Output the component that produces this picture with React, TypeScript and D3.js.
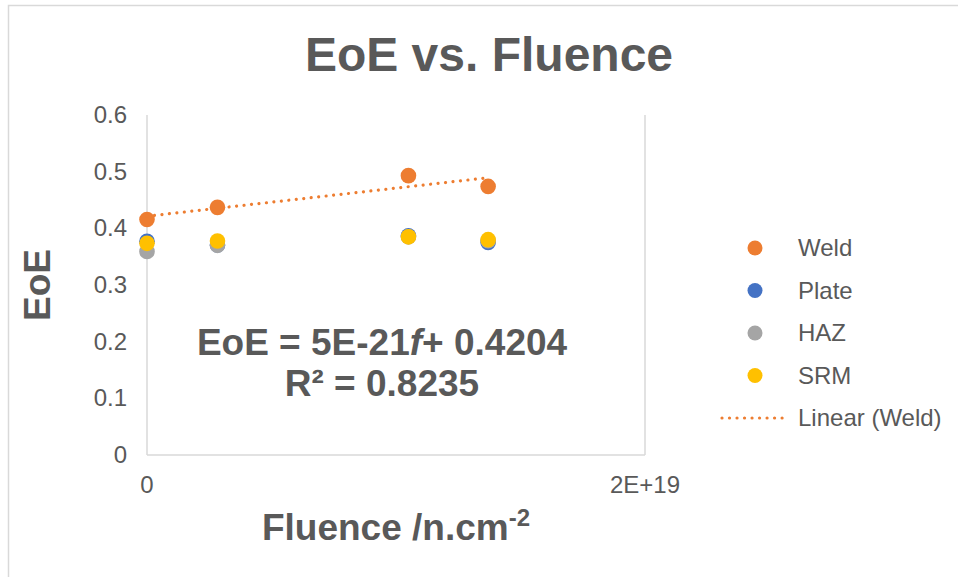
import React from "react";
import * as d3 from "d3";

const fluence = [0, 2.83e18, 1.05e19, 1.37e19];
const weld = [0.4155, 0.437, 0.493, 0.474];
const plate = [0.377, 0.3706, 0.387, 0.375];
const haz = [0.359, 0.37, 0.385, 0.378];
const srm = [0.3735, 0.3776, 0.385, 0.38];
const seriesNames = ["Weld", "Plate", "HAZ", "SRM"];
const seriesColors = ["#ED7D31", "#4472C4", "#A5A5A5", "#FFC000"];
const yTicks = [0, 0.1, 0.2, 0.3, 0.4, 0.5, 0.6];
const xTicks = [0, 2e19];
const xTickLabels = ["0", "2E+19"];
const trendLabel = "Linear (Weld)";

const W = 958;
const H = 577;
const plot = { left: 147, right: 645, top: 115, bottom: 455 };
const textColor = "#595959";
const gridColor = "#D9D9D9";
const font = "'Liberation Sans', Arial, sans-serif";

export default function App() {
  const x = d3.scaleLinear().domain([0, 2e19]).range([plot.left, plot.right]);
  const y = d3.scaleLinear().domain([0, 0.6]).range([plot.bottom, plot.top]);
  const allSeries = [weld, plate, haz, srm];

  // linear regression for Weld
  const mx = d3.mean(fluence)!;
  const my = d3.mean(weld)!;
  const slope =
    d3.sum(fluence.map((f, i) => (f - mx) * (weld[i] - my))) /
    d3.sum(fluence.map((f) => (f - mx) * (f - mx)));
  const intercept = my - slope * mx;
  const xEnd = d3.max(fluence)!;
  const trendPts: [number, number][] = [
    [0, intercept],
    [xEnd, intercept + slope * xEnd],
  ];
  const line = d3
    .line<[number, number]>()
    .x((d) => x(d[0]))
    .y((d) => y(d[1]));

  const legendX = 755;
  const legendY0 = 248;
  const legendStep = 42.5;

  return (
    <svg
      width={W}
      height={H}
      style={{ position: "absolute", left: 0, top: 0, background: "#fff" }}
      fontFamily={font}
    >
      <rect x={0} y={0} width={W} height={H} fill="#fff" />
      <rect x={8.5} y={5.5} width={1000} height={700} fill="none" stroke={gridColor} strokeWidth={1.5} />
      <text x={489} y={71} textAnchor="middle" fontSize={48} fontWeight="bold" fill={textColor}>
        EoE vs. Fluence
      </text>

      {/* vertical gridlines */}
      {xTicks.map((t, i) => (
        <line key={i} x1={x(t)} x2={x(t)} y1={plot.top} y2={plot.bottom} stroke={gridColor} strokeWidth={1.5} />
      ))}
      <line x1={plot.left} x2={plot.right} y1={plot.bottom} y2={plot.bottom} stroke={gridColor} strokeWidth={1.5} />

      {yTicks.map((t) => (
        <text key={t} x={127} y={y(t) + 8} textAnchor="end" fontSize={24} fill={textColor}>
          {String(t)}
        </text>
      ))}
      {xTicks.map((t, i) => (
        <text key={i} x={x(t)} y={493} textAnchor="middle" fontSize={24} fill={textColor}>
          {xTickLabels[i]}
        </text>
      ))}

      <text x={396} y={540} textAnchor="middle" fontSize={37} fontWeight="bold" fill={textColor}>
        Fluence /n.cm
        <tspan fontSize={24} dy={-14}>-2</tspan>
      </text>
      <text
        transform={`translate(50, ${(plot.top + plot.bottom) / 2}) rotate(-90)`}
        textAnchor="middle"
        fontSize={37}
        fontWeight="bold"
        fill={textColor}
      >
        EoE
      </text>

      {allSeries.map((s, si) => (
        <g key={si}>
          {s.map((v, i) => (
            <circle key={i} cx={x(fluence[i])} cy={y(v)} r={7.8} fill={seriesColors[si]} />
          ))}
        </g>
      ))}

      <path
        d={line(trendPts)!}
        fill="none"
        stroke="#ED7D31"
        strokeWidth={3.2}
        strokeLinecap="round"
        strokeDasharray="0.01 7.5"
      />

      <text x={382} y={355} textAnchor="middle" fontSize={37} fontWeight="bold" fill={textColor}>
        EoE = 5E-21<tspan fontStyle="italic">f</tspan>+ 0.4204
      </text>
      <text x={382} y={396} textAnchor="middle" fontSize={37} fontWeight="bold" fill={textColor}>
        R² = 0.8235
      </text>

      {/* legend */}
      {seriesNames.map((n, i) => (
        <g key={n}>
          <circle cx={legendX} cy={legendY0 + i * legendStep} r={7.5} fill={seriesColors[i]} />
          <text x={798} y={legendY0 + i * legendStep + 8} fontSize={24} fill={textColor}>
            {n}
          </text>
        </g>
      ))}
      <line
        x1={722}
        x2={788}
        y1={legendY0 + 4 * legendStep}
        y2={legendY0 + 4 * legendStep}
        stroke="#ED7D31"
        strokeWidth={3.2}
        strokeLinecap="round"
        strokeDasharray="0.01 7.5"
      />
      <text x={798} y={legendY0 + 4 * legendStep + 8} fontSize={24} fill={textColor}>
        {trendLabel}
      </text>
    </svg>
  );
}
